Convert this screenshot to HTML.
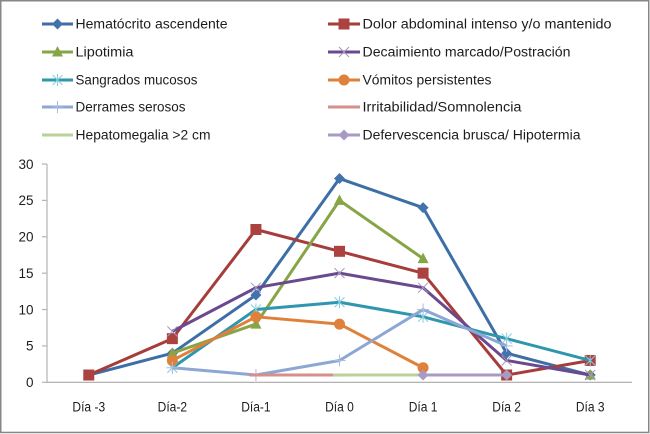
<!DOCTYPE html>
<html lang="es">
<head>
<meta charset="utf-8">
<title>Signos de alarma por día</title>
<style>
  html, body { margin: 0; padding: 0; background: #fff; }
  #chart { display: block; width: 650px; height: 434px; }
  text { font-family: "Liberation Sans", sans-serif; fill: #1f1f1f; }
  .legend-label { font-size: 13.5px; }
  .tick-label { font-size: 13.5px; }
  .cat-label { font-size: 13.5px; }
  .soft { filter: url(#soften); }
</style>
</head>
<body>
<svg id="chart" xmlns="http://www.w3.org/2000/svg" width="650" height="434" viewBox="0 0 650 434">
  <defs>
    <filter id="soften" x="-5%" y="-5%" width="110%" height="110%"><feGaussianBlur stdDeviation="0.25"/></filter>
  </defs>
  <rect x="0.75" y="0.75" width="648" height="431.7" fill="#fff" stroke="#878787" stroke-width="1.5"/>

  <g id="legend" class="soft">
    <g class="legend-entry" data-key="hematocrito">
      <line x1="42" y1="24" x2="73" y2="24"/>
      <text class="legend-label" x="75.5" y="28.5" textLength="152" lengthAdjust="spacingAndGlyphs">Hematócrito ascendente</text>
    </g>
    <g class="legend-entry" data-key="dolor">
      <line x1="328" y1="24" x2="360" y2="24"/>
      <text class="legend-label" x="362.5" y="28.5" textLength="249" lengthAdjust="spacingAndGlyphs">Dolor abdominal intenso y/o mantenido</text>
    </g>
    <g class="legend-entry" data-key="lipotimia">
      <line x1="42" y1="52" x2="73" y2="52"/>
      <text class="legend-label" x="75.5" y="56.5" textLength="58" lengthAdjust="spacingAndGlyphs">Lipotimia</text>
    </g>
    <g class="legend-entry" data-key="decaimiento">
      <line x1="328" y1="52" x2="360" y2="52"/>
      <text class="legend-label" x="362.5" y="56.5" textLength="208" lengthAdjust="spacingAndGlyphs">Decaimiento marcado/Postración</text>
    </g>
    <g class="legend-entry" data-key="sangrados">
      <line x1="42" y1="80" x2="73" y2="80"/>
      <text class="legend-label" x="75.5" y="84.5" textLength="122" lengthAdjust="spacingAndGlyphs">Sangrados mucosos</text>
    </g>
    <g class="legend-entry" data-key="vomitos">
      <line x1="328" y1="80" x2="360" y2="80"/>
      <text class="legend-label" x="362.5" y="84.5" textLength="129" lengthAdjust="spacingAndGlyphs">Vómitos persistentes</text>
    </g>
    <g class="legend-entry" data-key="derrames">
      <line x1="42" y1="107" x2="73" y2="107"/>
      <text class="legend-label" x="75.5" y="111.5" textLength="110" lengthAdjust="spacingAndGlyphs">Derrames serosos</text>
    </g>
    <g class="legend-entry" data-key="irritabilidad">
      <line x1="328" y1="107" x2="360" y2="107"/>
      <text class="legend-label" x="362.5" y="111.5" textLength="159" lengthAdjust="spacingAndGlyphs">Irritabilidad/Somnolencia</text>
    </g>
    <g class="legend-entry" data-key="hepatomegalia">
      <line x1="42" y1="135" x2="73" y2="135"/>
      <text class="legend-label" x="75.5" y="139.5" textLength="135" lengthAdjust="spacingAndGlyphs">Hepatomegalia &gt;2 cm</text>
    </g>
    <g class="legend-entry" data-key="defervescencia">
      <line x1="328" y1="135" x2="360" y2="135"/>
      <text class="legend-label" x="362.5" y="139.5" textLength="218" lengthAdjust="spacingAndGlyphs">Defervescencia brusca/ Hipotermia</text>
    </g>
  </g>

  <g id="axes" class="soft"></g>
  <g id="series" class="soft"></g>
</svg>

<script>
// Chart data; null means no value that day
const categories = ["Día -3", "Día-2", "Día-1", "Día 0", "Día 1", "Día 2", "Día 3"];
const yTicks = [0, 5, 10, 15, 20, 25, 30];

const hematocrito   = [1, 4, 12, 28, 24, 4, 1];
const dolor         = [1, 6, 21, 18, 15, 1, 3];
const lipotimia     = [null, 4, 8, 25, 17, null, 1];
const decaimiento   = [null, 7, 13, 15, 13, 3, 1];
const sangrados     = [null, 2, 10, 11, 9, 6, 3];
const vomitos       = [null, 3, 9, 8, 2, null, null];
const derrames      = [null, 2, 1, 3, 10, 5, null];
const irritabilidad = [null, null, 1, 1, null, null, null];
const hepatomegalia = [null, null, null, 1, 1, null, null];
const defervescencia = [null, null, null, null, 1, 1, null];

const NS = "http://www.w3.org/2000/svg";
const plot = { left: 47, right: 632, top: 164, bottom: 382.3 };
const yMax = 30;

function xScale(i) {
  const band = (plot.right - plot.left) / categories.length;
  return plot.left + band * (i + 0.5);
}
function yScale(v) {
  return plot.bottom - (v / yMax) * (plot.bottom - plot.top);
}

const styles = {
  hematocrito:    { color: "#3c6ea6", mark: "#4273aa", marker: "diamond" },
  dolor:          { color: "#a63d3a", mark: "#ab4240", marker: "square" },
  lipotimia:      { color: "#87a544", mark: "#87a544", marker: "triangle" },
  decaimiento:    { color: "#6a4a8e", mark: "#a596c2", marker: "cross" },
  sangrados:      { color: "#2f97ad", mark: "#86cbdc", marker: "star" },
  vomitos:        { color: "#e0813a", mark: "#e0813a", marker: "circle" },
  derrames:       { color: "#8ca7d3", mark: "#a9bde0", marker: "plus" },
  irritabilidad:  { color: "#d68f8d", mark: "#d68f8d", marker: "dash" },
  hepatomegalia:  { color: "#b9d19a", mark: "#b9d19a", marker: "dash" },
  defervescencia: { color: "#a99ac4", mark: "#a99ac4", marker: "diamond" }
};

function strokeShape(d, color) {
  const p = document.createElementNS(NS, "path");
  p.setAttribute("d", d);
  p.setAttribute("fill", "none");
  p.setAttribute("stroke", color);
  p.setAttribute("stroke-width", "1");
  return p;
}
function fillShape(d, color) {
  const p = document.createElementNS(NS, "path");
  p.setAttribute("d", d);
  p.setAttribute("fill", color);
  return p;
}
function markerShape(type, x, y, color) {
  if (type === "diamond") return fillShape(`M${x} ${y-5.5}L${x+5.5} ${y}L${x} ${y+5.5}L${x-5.5} ${y}Z`, color);
  if (type === "square") return fillShape(`M${x-5.5} ${y-5.5}h11v11h-11Z`, color);
  if (type === "triangle") return fillShape(`M${x} ${y-6}L${x+5.5} ${y+4.5}L${x-5.5} ${y+4.5}Z`, color);
  if (type === "circle") {
    const c = document.createElementNS(NS, "circle");
    c.setAttribute("cx", x);
    c.setAttribute("cy", y);
    c.setAttribute("r", 5.5);
    c.setAttribute("fill", color);
    return c;
  }
  if (type === "cross") return strokeShape(`M${x-5} ${y-5}L${x+5} ${y+5}M${x-5} ${y+5}L${x+5} ${y-5}`, color);
  if (type === "star") return strokeShape(`M${x-5} ${y-5}L${x+5} ${y+5}M${x-5} ${y+5}L${x+5} ${y-5}M${x} ${y-6}V${y+6}`, color);
  if (type === "plus") return strokeShape(`M${x} ${y-6}V${y+6}M${x-6} ${y}H${x+6}`, color);
  if (type === "dash") {
    const d = strokeShape(`M${x-6.5} ${y}H${x+6.5}`, color);
    d.setAttribute("stroke-width", "3");
    return d;
  }
  return null;
}

// Axes
const axes = document.getElementById("axes");
const yAxis = document.createElementNS(NS, "line");


yAxis.setAttribute("x1", plot.left);
yAxis.setAttribute("x2", plot.left);
yAxis.setAttribute("y1", plot.top);
yAxis.setAttribute("y2", plot.bottom);
yAxis.setAttribute("stroke", "#b4b4b4");
yAxis.setAttribute("stroke-width", "1.2");
axes.appendChild(yAxis);

const xAxis = document.createElementNS(NS, "line");


xAxis.setAttribute("x1", plot.left);
xAxis.setAttribute("x2", plot.right);
xAxis.setAttribute("y1", plot.bottom);
xAxis.setAttribute("y2", plot.bottom);
xAxis.setAttribute("stroke", "#a8a8a8");
xAxis.setAttribute("stroke-width", "1.2");
axes.appendChild(xAxis);

yTicks.forEach(function (t) {
  const tick = document.createElementNS(NS, "line");
  
  
  tick.setAttribute("x1", plot.left - 5);
  tick.setAttribute("x2", plot.left);
  tick.setAttribute("y1", yScale(t));
  tick.setAttribute("y2", yScale(t));
  tick.setAttribute("stroke", "#b4b4b4");
  tick.setAttribute("stroke-width", "1.2");
  axes.appendChild(tick);

  const label = document.createElementNS(NS, "text");
  
  
  label.setAttribute("class", "tick-label");
  label.setAttribute("x", 33.5);
  label.setAttribute("y", yScale(t) + 4.8);
  label.setAttribute("text-anchor", "end");
  label.textContent = t;
  axes.appendChild(label);
});

categories.forEach(function (c, i) {
  const label = document.createElementNS(NS, "text");
  
  
  label.setAttribute("class", "cat-label");
  label.setAttribute("x", xScale(i));
  label.setAttribute("y", 411.5);
  label.setAttribute("text-anchor", "middle");
  label.textContent = c;
  axes.appendChild(label);
  // Narrow the wider fallback face to the reference label width
  label.setAttribute("lengthAdjust", "spacingAndGlyphs");
  label.setAttribute("textLength", label.getComputedTextLength() * 0.89);
});

// Series
const seriesList = [
  ["hematocrito", hematocrito],
  ["dolor", dolor],
  ["lipotimia", lipotimia],
  ["decaimiento", decaimiento],
  ["sangrados", sangrados],
  ["vomitos", vomitos],
  ["derrames", derrames],
  ["irritabilidad", irritabilidad],
  ["hepatomegalia", hepatomegalia],
  ["defervescencia", defervescencia]
];

const seriesGroup = document.getElementById("series");
seriesList.forEach(function (entry) {
  const key = entry[0];
  const values = entry[1];
  const st = styles[key];
  const g = document.createElementNS(NS, "g");
  
  

  let d = "";
  let pen = false;
  values.forEach(function (v, i) {
    if (v === null) { pen = false; return; }
    d += (pen ? "L" : "M") + xScale(i) + " " + yScale(v);
    pen = true;
  });
  const line = document.createElementNS(NS, "path");
  
  
  line.setAttribute("d", d);
  line.setAttribute("fill", "none");
  line.setAttribute("stroke", st.color);
  line.setAttribute("stroke-width", "3");
  line.setAttribute("stroke-linejoin", "round");
  g.appendChild(line);

  values.forEach(function (v, i) {
    if (v === null) return;
    const m = markerShape(st.marker, xScale(i), yScale(v), st.mark);
    
    
    g.appendChild(m);
  });
  seriesGroup.appendChild(g);
});

// Legend symbols
document.querySelectorAll(".legend-entry").forEach(function (g) {
  const st = styles[g.getAttribute("data-key")];
  const l = g.querySelector("line");
  
  
  l.setAttribute("stroke", st.color);
  l.setAttribute("stroke-width", "3");
  const cx = (Number(l.getAttribute("x1")) + Number(l.getAttribute("x2"))) / 2;
  const cy = Number(l.getAttribute("y1"));
  const m = markerShape(st.marker, cx, cy, st.mark);
  
  
  g.insertBefore(m, l.nextSibling);
});
</script>
</body>
</html>
